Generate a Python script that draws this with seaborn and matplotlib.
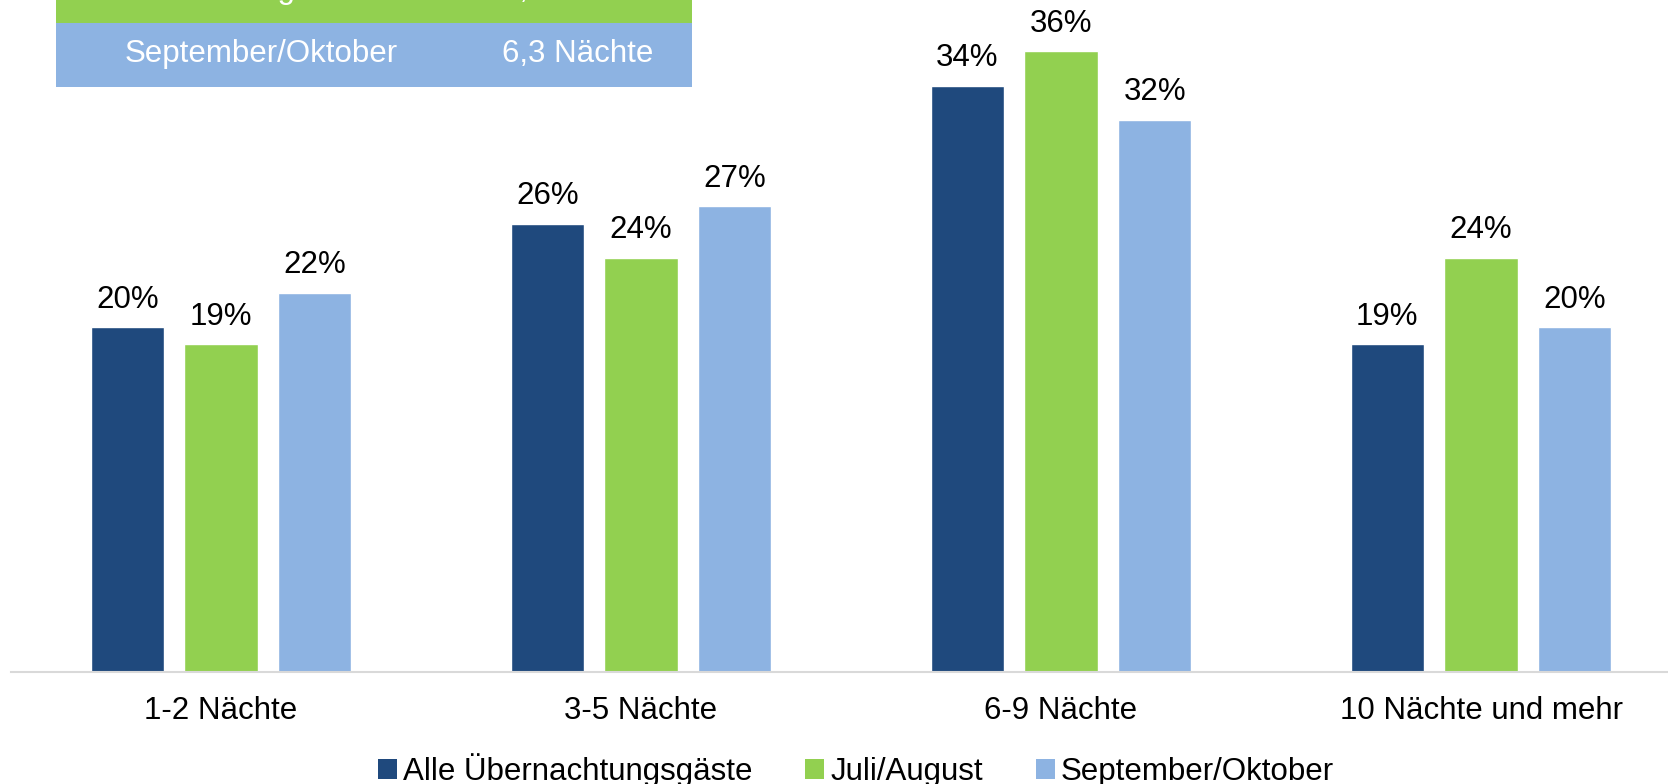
import pandas as pd
import matplotlib
matplotlib.use("Agg")
import matplotlib.pyplot as plt
import seaborn as sns
from matplotlib.patches import Patch, Rectangle

# Data
categories = ["1-2 Nächte", "3-5 Nächte", "6-9 Nächte", "10 Nächte und mehr"]
series_names = ["Alle Übernachtungsgäste", "Juli/August", "September/Oktober"]
alle = [20, 26, 34, 19]
juli_august = [19, 24, 36, 24]
sept_oktober = [22, 27, 32, 20]

# Summary table (top row is cut off in the reference)
table_rows = ["Juli/August", "September/Oktober"]
table_values = ["6,9 Nächte", "6,3 Nächte"]

colors = ["#1F497D", "#92D050", "#8DB3E2"]

df = pd.DataFrame({
    "Kategorie": categories * 3,
    "Gruppe": [series_names[0]] * 4 + [series_names[1]] * 4 + [series_names[2]] * 4,
    "Anteil": alle + juli_august + sept_oktober,
})

sns.set_style("white")
plt.rcParams["font.family"] = ["Liberation Sans", "DejaVu Sans"]
FS = 22.5

W, H = 1668, 784
fig = plt.figure(figsize=(W / 100, H / 100), dpi=100)
ax = fig.add_axes([11 / W, (H - 672) / H, 1 - 11 / W, 672 / H])

sns.barplot(data=df, x="Kategorie", y="Anteil", hue="Gruppe", palette=colors,
            width=0.67, gap=0.22, saturation=1, legend=False, ax=ax)

for cont in ax.containers:
    ax.bar_label(cont, labels=[f"{int(v)}%" for v in cont.datavalues],
                 padding=9, fontsize=FS, color="#000000")

ax.set_xlim(-0.5, (W - 221) / 420)
ax.set_ylim(0, 672 / 17.25)
ax.set_xlabel("")
ax.set_ylabel("")
ax.set_yticks([])
ax.tick_params(axis="x", length=0, pad=17, labelsize=FS, labelcolor="#000000")
for side in ["top", "left", "right"]:
    ax.spines[side].set_visible(False)
ax.spines["bottom"].set_color("#D9D9D9")
ax.spines["bottom"].set_linewidth(1.5)

# Legend
handles = [Patch(facecolor=c, edgecolor="none") for c in colors]
fig.legend(handles, series_names, loc="center", bbox_to_anchor=(856 / W, 1 - 770 / H),
           ncol=3, frameon=False, fontsize=FS, handlelength=0.6, handleheight=0.6,
           handletextpad=0.2, columnspacing=1.7, labelcolor="#000000")

# Table in the top-left corner
row_h = 64
row_colors = ["#92D050", "#8DB3E2"]
row_tops = [-41, 23]
for name, val, col, top in zip(table_rows, table_values, row_colors, row_tops):
    fig.patches.append(Rectangle((56 / W, 1 - (top + row_h) / H), (692 - 56) / W, row_h / H,
                                 transform=fig.transFigure, facecolor=col, edgecolor="none",
                                 zorder=0))
    yc = 1 - (top + row_h / 2 - 1) / H
    fig.text(261 / W, yc, name, color="white", fontsize=FS, ha="center", va="center")
    fig.text(578 / W, yc, val, color="white", fontsize=FS, ha="center", va="center")

fig.savefig("out.png", dpi=100)
